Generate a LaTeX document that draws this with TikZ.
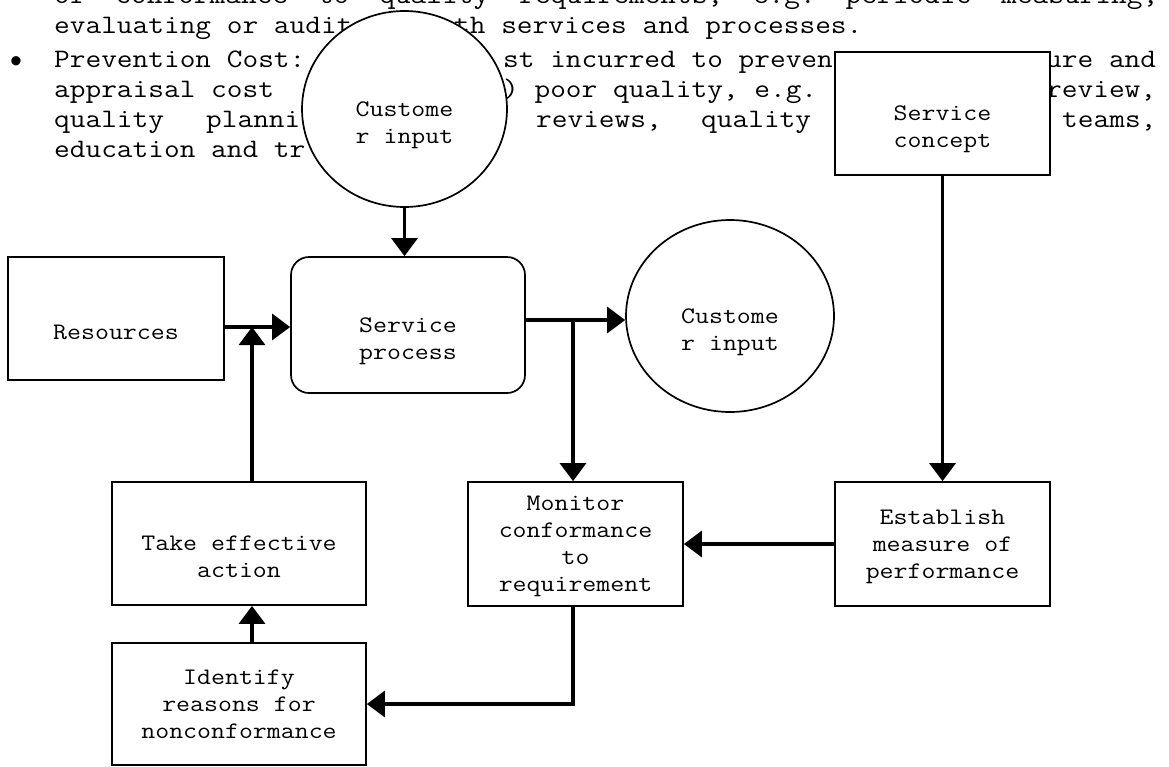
\documentclass[tikz,border=0pt]{standalone}
\usepackage{fontspec}
\setmonofont[FakeStretch=1.1429]{Latin Modern Mono}
\newfontfamily\bulletFont{Liberation Sans}
\usetikzlibrary{arrows.meta,shapes.geometric}
\newcommand{\bodyFont}{\ttfamily\fontsize{26.67}{30}\selectfont}
\newcommand{\boxFont}{\ttfamily\fontsize{23.7}{27}\selectfont}
\newcommand{\topStrut}{\rule{0pt}{20.9pt}}
\newcommand{\botStrut}{\rule[-6.1pt]{0pt}{6.1pt}}

\begin{document}
\begin{tikzpicture}
[x=1pt,y=-1pt,
  lineDecorate/.style={-{Triangle[length=18pt,width=26pt]},line width=3.3pt},%
  nodeDecorate/.style={draw,fill=white,line width=1.7pt,inner sep=0pt,font=\boxFont,align=center},
  boxDecorate/.style={nodeDecorate,shape=rectangle},
  ovalDecorate/.style={nodeDecorate,shape=ellipse},
  textDecorate/.style={anchor=base west,inner sep=0pt,font=\bodyFont}]
\useasboundingbox (0,0) rectangle (1169,766);
%% page text behind the chart
\node[textDecorate] (line1) at (54,3)
  {\makebox[1104pt][s]{\frenchspacing\spaceskip=\fontdimen2\font plus 1fil\relax of conformance to quality requirements, e.g. periodic measuring,}};
\foreach \textname/\x/\y/\words in {
  line2a/54/33/{evaluating or audit},
  line2b/454/33/{th services and processes.},
  line3a/54/67/{Prevention Cost:},
  line3b/503/67/{st incurred to preven},
  line3c/1046/67/{ure and},
  line4a/54/97/{appraisal cost},
  line4b/503/97/{) poor quality, e.g.},
  line4c/1046/97/{review,},
  line5a/54/127/{quality},
  line5b/206/127/{planni},
  line5c/536/127/{reviews,},
  line5d/701/127/{quality},
  line5e/1062/127/{teams,},
  line6/54/157/{education and tr}}
{
  \node[textDecorate] (\textname) at (\x,\y) {\words};
}
\node[anchor=base,inner sep=0pt,font=\bulletFont\fontsize{34}{36}\selectfont] (bullet) at (16,72) {•};
%% chart blocks
\node[ovalDecorate,minimum width=205pt,minimum height=196pt] (custIn) at (404.5,109) {\topStrut\\Custome\\r input\botStrut};
\node[ovalDecorate,minimum width=208pt,minimum height=192pt] (custOut) at (730,316) {\topStrut\\Custome\\r input\botStrut};
\node[boxDecorate,minimum width=216pt,minimum height=123pt] (resources) at (116,318.5) {\topStrut\\Resources\botStrut};
\node[boxDecorate,rounded corners=18pt,minimum width=234pt,minimum height=136pt] (process) at (408,325) {\topStrut\\Service\\process\botStrut};
\node[boxDecorate,minimum width=215pt,minimum height=123pt] (concept) at (942.5,113.5) {\topStrut\\Service\\concept\botStrut};
\node[boxDecorate,minimum width=215pt,minimum height=124pt] (measure) at (942.5,544) {\topStrut Establish\\measure of\\performance\botStrut};
\node[boxDecorate,minimum width=215pt,minimum height=124pt] (monitor) at (575.5,544) {\topStrut Monitor\\conformance\\to\\requirement\botStrut};
\node[boxDecorate,minimum width=254pt,minimum height=123pt] (action) at (239,543.5) {\topStrut\\Take effective\\action\botStrut};
\node[boxDecorate,minimum width=254pt,minimum height=122pt] (reasons) at (239,704) {\topStrut Identify\\reasons for\\nonconformance\botStrut};
%% connectors
\coordinate (feedJoin) at (252,327);
\coordinate (outJoin) at (573,320);
\draw[lineDecorate] (custIn) -- (custIn |- process.north);
\draw[lineDecorate] (resources.east |- feedJoin) -- (process.west |- feedJoin);
\draw[lineDecorate] (action.north -| feedJoin) -- (feedJoin);
\draw[lineDecorate] (process.east |- outJoin) -- (custOut.west |- outJoin);
\draw[lineDecorate] (outJoin) -- (outJoin |- monitor.north);
\draw[lineDecorate] (concept) -- (measure);
\draw[lineDecorate] (measure) -- (monitor);
\draw[lineDecorate] (monitor.south -| outJoin) |- (reasons);
\draw[lineDecorate] (reasons.north -| feedJoin) -- (action.south -| feedJoin);
\end{tikzpicture}
\end{document}
